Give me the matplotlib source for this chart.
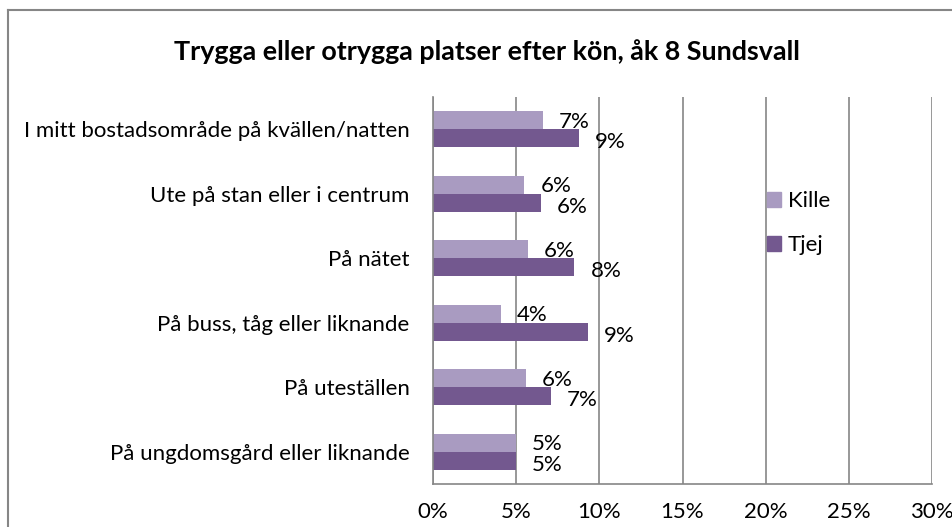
import matplotlib.pyplot as plt
import numpy as np
from matplotlib.lines import Line2D

# data (percent)
categories = [
    "I mitt bostadsområde på kvällen/natten",
    "Ute på stan eller i centrum",
    "På nätet",
    "På buss, tåg eller liknande",
    "På uteställen",
    "På ungdomsgård eller liknande",
]
kille = [6.6, 5.5, 5.7, 4.1, 5.6, 5.0]
tjej = [8.8, 6.5, 8.5, 9.3, 7.1, 5.0]
kille_labels = ["7%", "6%", "6%", "4%", "6%", "5%"]
tjej_labels = ["9%", "6%", "8%", "9%", "7%", "5%"]
xticks = [0, 5, 10, 15, 20, 25, 30]

KILLE_C = "#a99bc1"
TJEJ_C = "#73588f"
GRID_C = "#868686"
FONT = "Lato"
FS = 16

plt.rcParams["font.family"] = [FONT, "DejaVu Sans"]

fig = plt.figure(figsize=(9.53, 5.27), dpi=100)
W, H = 953, 527
ax = fig.add_axes([433 / W, 1 - 484 / H, (932 - 433) / W, (484 - 97) / H])

y = np.arange(len(categories))
bh = 0.28
ax.barh(y - bh / 2, kille, height=bh, color=KILLE_C, label="Kille")
ax.barh(y + bh / 2, tjej, height=bh, color=TJEJ_C, label="Tjej")

px = 30 / (932 - 433)  # data units per pixel
for i in range(len(categories)):
    ax.text(kille[i] + 16 * px, y[i] - bh / 2 + 0.02, kille_labels[i], va="center",
            ha="left", fontsize=FS)
    ax.text(tjej[i] + 16 * px, y[i] + bh / 2 + 0.06, tjej_labels[i], va="center",
            ha="left", fontsize=FS)

ax.set_xlim(0, 30)
ax.set_ylim(len(categories) - 0.5, -0.5)
ax.set_xticks(xticks)
ax.set_xticklabels([f"{t}%" for t in xticks], fontsize=FS)
ax.set_yticks(y)
ax.set_yticklabels(categories, fontsize=FS)
ax.tick_params(axis="both", length=0)
ax.tick_params(axis="x", pad=13)
ax.tick_params(axis="y", pad=17)
ax.xaxis.grid(True, color=GRID_C, linewidth=1.2)
ax.set_axisbelow(True)
for s in ["top", "right"]:
    ax.spines[s].set_visible(False)
for s in ["left", "bottom"]:
    ax.spines[s].set_color(GRID_C)
    ax.spines[s].set_linewidth(1.2)

handles = [
    plt.Rectangle((0, 0), 1, 1, color=KILLE_C),
    plt.Rectangle((0, 0), 1, 1, color=TJEJ_C),
]
fig.legend(handles, ["Kille", "Tjej"], loc="upper left",
           bbox_to_anchor=(758 / W, 1 - 182 / H), frameon=False,
           fontsize=FS, handlelength=0.65, handleheight=0.65,
           handletextpad=0.3, labelspacing=1.1, borderaxespad=0)

fig.text(487 / W, 1 - 52 / H, "Trygga eller otrygga platser efter kön, åk 8 Sundsvall",
         ha="center", va="center", fontsize=19.4, fontweight="bold")

# outer chart border (only top and left visible in the crop)
fig.add_artist(Line2D([8 / W, 8 / W], [0, 1 - 10 / H], transform=fig.transFigure,
                      color=GRID_C, linewidth=1.5))
fig.add_artist(Line2D([8 / W, 1], [1 - 10 / H, 1 - 10 / H], transform=fig.transFigure,
                      color=GRID_C, linewidth=1.5))

fig.savefig("out.png", dpi=100, facecolor="white")
